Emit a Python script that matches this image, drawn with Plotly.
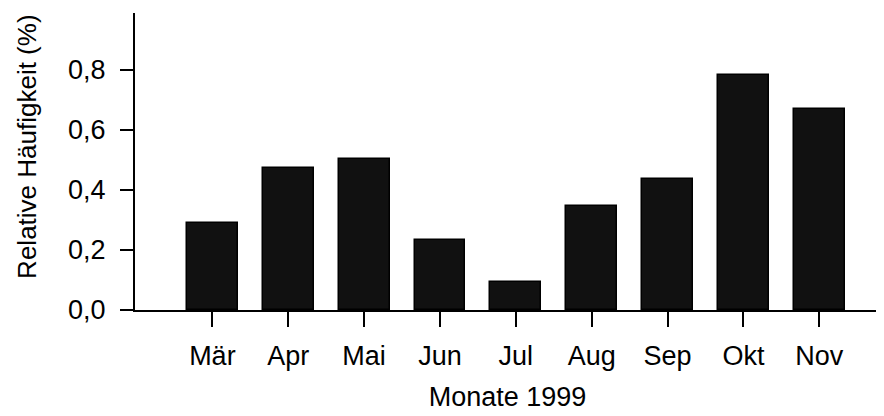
import plotly.graph_objects as go

months = ["Mär", "Apr", "Mai", "Jun", "Jul", "Aug", "Sep", "Okt", "Nov"]
values = [0.29, 0.475, 0.503, 0.233, 0.093, 0.347, 0.437, 0.783, 0.67]
y_ticks = [0.0, 0.2, 0.4, 0.6, 0.8]
y_tick_labels = ["0,0", "0,2", "0,4", "0,6", "0,8"]

x_idx = list(range(len(months)))

fig = go.Figure(
    go.Bar(
        x=x_idx,
        y=values,
        width=0.67,
        marker=dict(color="#111111", line=dict(color="#000000", width=1.5)),
    )
)

font = dict(family="Liberation Sans", size=27, color="#000000")
title_font = dict(family="Liberation Sans", size=26, color="#000000")

fig.update_layout(
    width=876,
    height=408,
    margin=dict(l=127, r=4, t=5, b=106),
    plot_bgcolor="white",
    paper_bgcolor="white",
    font=font,
    showlegend=False,
    bargap=0,
    annotations=[
        dict(
            text="Relative Häufigkeit (%)",
            textangle=-90,
            xref="paper", yref="paper",
            x=-0.146, y=0.55,
            xanchor="center", yanchor="middle",
            showarrow=False,
            font=title_font,
        )
    ],
)

fig.update_xaxes(
    range=[-1.02, 8.8],
    tickmode="array",
    tickvals=x_idx,
    ticktext=months,
    showline=True,
    linecolor="black",
    linewidth=2,
    ticks="outside",
    ticklen=15,
    tickwidth=2,
    tickcolor="black",
    ticklabelstandoff=6,
    showgrid=False,
    zeroline=False,
    automargin=False,
    title=dict(text="Monate 1999", font=font, standoff=17),
)

fig.update_yaxes(
    range=[0, 0.99],
    tickmode="array",
    tickvals=y_ticks,
    ticktext=y_tick_labels,
    showline=True,
    linecolor="black",
    linewidth=2,
    ticks="outside",
    ticklen=13,
    tickwidth=2,
    tickcolor="black",
    ticklabelstandoff=9,
    showgrid=False,
    zeroline=False,
    automargin=False,
)

fig.write_html("out.html")
